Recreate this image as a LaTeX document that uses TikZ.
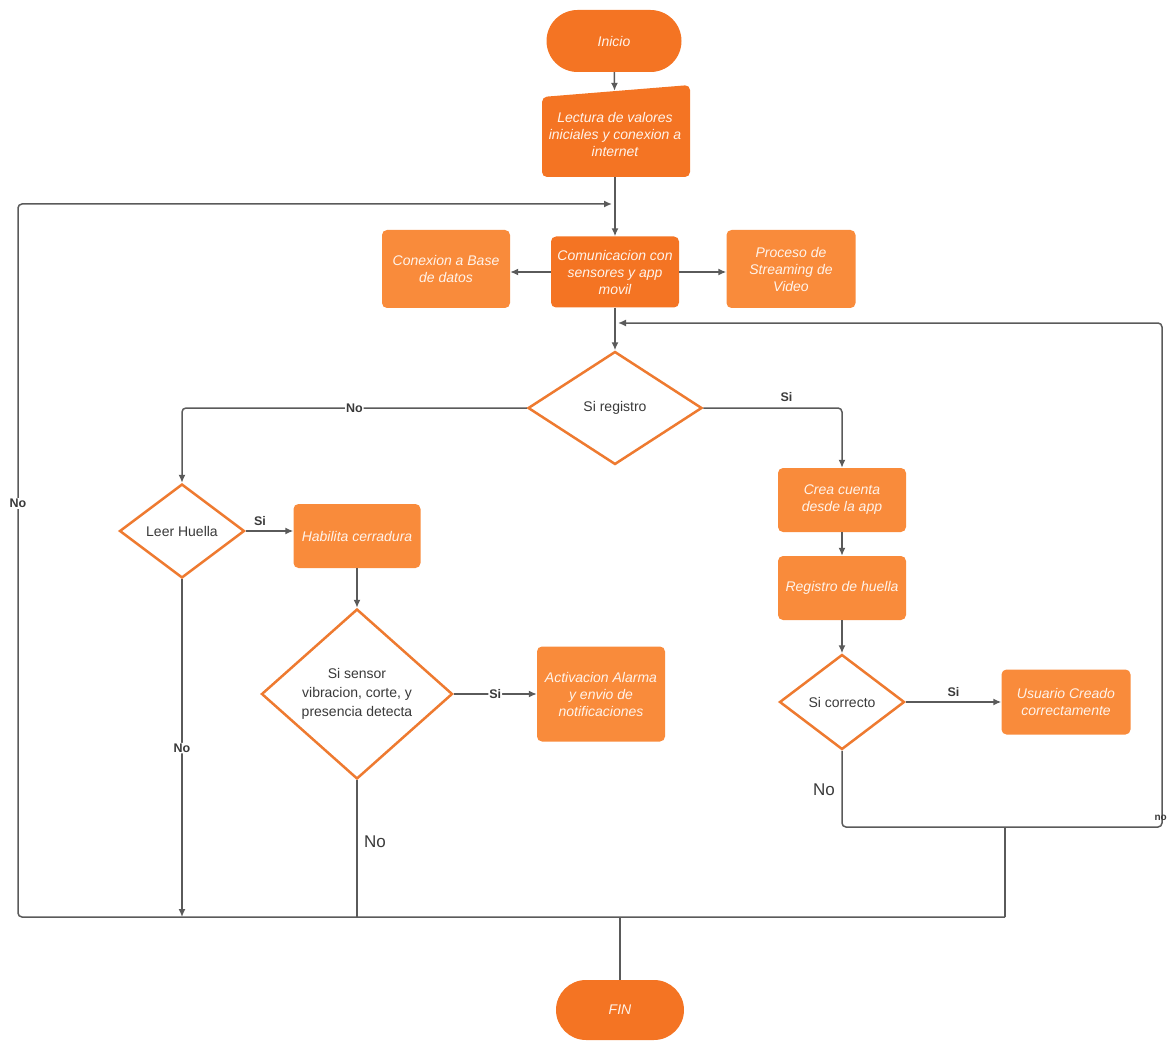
\documentclass[tikz,border=0pt]{standalone}
\usepackage{fontspec}
\setmainfont{Liberation Sans}
\usetikzlibrary{shapes.geometric,arrows.meta}
\definecolor{ordark}{HTML}{F47423}
\definecolor{orlight}{HTML}{F98B3B}
\definecolor{orline}{HTML}{EE7A30}
\definecolor{wire}{HTML}{5A5A5A}
\definecolor{txt}{HTML}{3A3A3A}
\definecolor{boxtxt}{HTML}{FFF3EA}

\begin{document}
\begin{tikzpicture}[x=1pt,y=-1pt,
  boxfont/.style={font=\fontsize{14}{17}\selectfont\itshape},
  procbox/.style={rectangle, rounded corners=5pt, fill=orlight, text=boxtxt,
    align=center, boxfont, inner sep=2pt},
  mainbox/.style={procbox, fill=ordark},
  terminal/.style={rectangle, fill=ordark, text=boxtxt, boxfont, inner sep=2pt},
  decision/.style={diamond, draw=orline, line width=2.5pt, fill=white, text=txt,
    align=center, inner sep=0pt, font=\fontsize{14}{19}\selectfont},
  wire/.style={draw=wire, line width=1.5pt, rounded corners=4pt},
  flow/.style={wire, -{Latex[length=8pt,width=7pt]}},
  lab/.style={text=txt, font=\fontsize{12.5}{14}\selectfont\bfseries, inner sep=1pt},
  biglab/.style={text=txt, font=\fontsize{17}{19}\selectfont, inner sep=1pt}
]
\useasboundingbox (0,0) rectangle (1168,1043);

% start / end terminals
\node[terminal, rounded corners=31pt, minimum width=135pt, minimum height=62pt] (ini) at (614,41) {Inicio};
\node[terminal, rounded corners=30pt, minimum width=128pt, minimum height=60pt] (fin) at (620,1010) {FIN};

% manual input block with a slanted top edge
\fill[ordark, rounded corners=5pt] (542,97) -- (690,85) -- (690,177) -- (542,177) -- cycle;
\node[align=center, text=boxtxt, boxfont, minimum width=148pt, minimum height=86pt, inner sep=0pt]
  (lec) at (615,134) {Lectura de valores\\iniciales y conexion a\\internet};

% process blocks
\node[mainbox, minimum width=128pt, minimum height=71pt] (com) at (615,272) {Comunicacion con\\sensores y app\\movil};
\node[procbox, minimum width=128pt, minimum height=78pt] (bd) at (446,269) {Conexion a Base\\de datos};
\node[procbox, minimum width=129pt, minimum height=78pt] (vid) at (791,269) {Proceso de\\Streaming de\\Video};

\node[decision, minimum width=174pt, minimum height=113pt] (reg) at (615,408) {Si registro};

% left branch
\node[decision, minimum width=125pt, minimum height=94pt] (leer) at (182,531) {Leer Huella};
\node[procbox, minimum width=127pt, minimum height=64pt] (hab) at (357,536) {Habilita cerradura};
\node[decision, minimum width=191pt, minimum height=170pt] (sen) at (357,694) {Si sensor\\vibracion, corte, y\\presencia detecta};
\node[procbox, minimum width=128pt, minimum height=95pt] (act) at (601,694) {Activacion Alarma\\y envio de\\notificaciones};

% right branch
\node[procbox, minimum width=128pt, minimum height=64pt] (crea) at (842,500) {Crea cuenta\\desde la app};
\node[procbox, minimum width=128pt, minimum height=64pt] (regh) at (842,588) {Registro de huella};
\node[decision, minimum width=125pt, minimum height=95pt] (cor) at (842,702) {Si correcto};
\node[procbox, minimum width=129pt, minimum height=65pt] (usr) at (1066,702) {Usuario Creado\\correctamente};

% junction points of the return lines
\coordinate (busL) at (18,917);
\coordinate (busR) at (1005,917);
\coordinate (topL) at (18,204);
\coordinate (topIn) at (612,204);
\coordinate (loopA) at (842,827);
\coordinate (loopB) at (1162,827);
\coordinate (loopC) at (1162,323);
\coordinate (loopIn) at (618,323);
\coordinate (drop) at (1005,827);
\coordinate (finTop) at (620,917);

% main flow
\draw[flow] (ini) -- (lec);
\draw[flow] (lec.south) -- (com.north);
\draw[flow] (com.west) -- (com.west -| bd.east);
\draw[flow] (com.east) -- (com.east -| vid.west);
\draw[flow] (com.south) -- (reg.north);

\draw[flow] (reg.west) -| node[pos=0.25, lab, fill=white] {No} (leer.north);
\draw[flow] (reg.east) -| node[pos=0.3, lab, above=5pt] {Si} (crea.north);

\draw[flow] (leer.east) -- node[lab, above=4pt, pos=0.3] {Si} (leer.east -| hab.west);
\draw[flow] (hab.south) -- (sen.north);
\draw[flow] (sen.east) -- node[lab, fill=white, pos=0.5] {Si} (act.west);

\draw[flow] (crea.south) -- (regh.north);
\draw[flow] (regh.south) -- (cor.north);
\draw[flow] (cor.east) -- node[lab, above=4pt] {Si} (usr.west);

% "No" returns to the bottom line
\draw[flow] (leer.south) -- node[lab, fill=white, pos=0.5] {No} (leer.south |- busL);
\draw[wire] (sen.south) -- (sen.south |- busL);
\node[biglab] at (375,842) {No};

% retry loop back to the decision "Si registro"
\draw[flow] (cor.south) -- (loopA) -- (loopB) -- (loopC) -- (loopIn);
\node[biglab] at (824,790) {No};
\node[lab, anchor=east, font=\fontsize{10}{12}\selectfont\bfseries] at (1168,818) {no};
\draw[wire] (drop) -- (busR);

% bottom line and loop back to the sensors step
\draw[flow] (busR) -- (busL) -- node[lab, fill=white, pos=0.58] {No} (topL) -- (topIn);
\draw[wire] (finTop) -- (fin.north);
\end{tikzpicture}
\end{document}
